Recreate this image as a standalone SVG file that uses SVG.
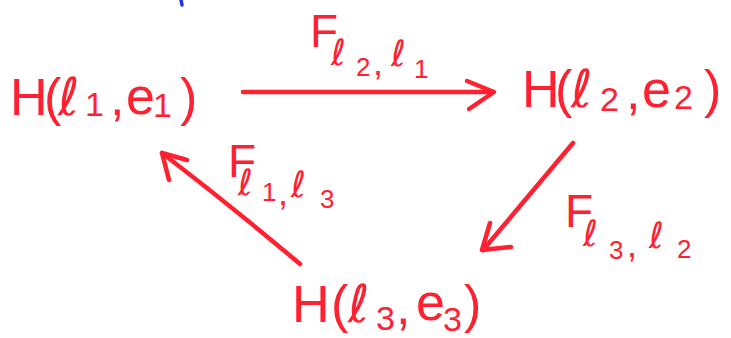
<svg xmlns="http://www.w3.org/2000/svg" width="731" height="338" viewBox="0 0 731 338">
<style>
.t{font-family:"Liberation Sans","DejaVu Sans",sans-serif;fill:#ff2030}
.big{font-size:52px}
.mid{font-size:34px}
.f{font-size:46px}
.l{font-family:"DejaVu Sans",sans-serif}
.s{font-size:36px}
.ss{font-size:26px}
.ln{fill:none;stroke:#ff2030;stroke-width:4.5;stroke-linecap:round;stroke-linejoin:round}
</style>
<rect width="731" height="338" fill="#ffffff"/>
<path d="M181,0 L182,5" stroke="#2233ee" stroke-width="3.5" stroke-linecap="round"/>
<g id="node1">
<text class="t big" y="115"><tspan x="10">H</tspan><tspan x="44">(</tspan><tspan class="l" x="58">ℓ</tspan><tspan x="85" class="mid" y="116">1</tspan><tspan x="110" y="115">,</tspan><tspan x="126" y="114">e</tspan><tspan x="153" class="mid" y="117">1</tspan><tspan x="180" y="115">)</tspan></text>
</g>
<g id="node2">
<text class="t big" y="107"><tspan x="522">H</tspan><tspan x="555">(</tspan><tspan class="l" x="571">ℓ</tspan><tspan x="600" class="mid" y="111">2</tspan><tspan x="626" y="109">,</tspan><tspan x="642" y="107">e</tspan><tspan x="674" class="mid" y="109">2</tspan><tspan x="704" y="107">)</tspan></text>
</g>
<g id="node3">
<text class="t big" y="322"><tspan x="292">H</tspan><tspan x="331">(</tspan><tspan class="l" x="348">ℓ</tspan><tspan x="376" class="mid" y="330">3</tspan><tspan x="396" y="324">,</tspan><tspan x="416" y="320">e</tspan><tspan x="443" class="mid" y="331">3</tspan><tspan x="464" y="322">)</tspan></text>
</g>
<g id="connectors">
<path class="ln" d="M243,92 Q370,92 493,92"/>
<path class="ln" d="M467,81 L494,92 L469,109"/>
<path class="ln" d="M573,143 L483,250"/>
<path class="ln" d="M490,223 L482,250 L511,247"/>
<path class="ln" d="M300,264 Q230,205 162,153"/>
<path class="ln" d="M187,160 L162,153 L169,180"/>
<g id="label1">
<text class="t f" y="47"><tspan x="310">F</tspan><tspan class="s l" x="331" y="65">ℓ</tspan><tspan class="ss" x="356" y="76">2</tspan><tspan class="s" x="373" y="75">,</tspan><tspan class="s l" x="391" y="66">ℓ</tspan><tspan class="ss" x="414" y="78">1</tspan></text>
</g>
<g id="label2">
<text class="t f" y="227"><tspan x="565">F</tspan><tspan class="s l" x="583" y="246">ℓ</tspan><tspan class="ss" x="609" y="259">3</tspan><tspan class="s" x="627" y="257">,</tspan><tspan class="s l" x="649" y="248">ℓ</tspan><tspan class="ss" x="677" y="258">2</tspan></text>
</g>
<g id="label3">
<text class="t f" y="177"><tspan x="228">F</tspan><tspan class="s l" x="238" y="195">ℓ</tspan><tspan class="ss" x="262" y="201">1</tspan><tspan class="s" x="278" y="205">,</tspan><tspan class="s l" x="291" y="197">ℓ</tspan><tspan class="ss" x="320" y="208">3</tspan></text>
</g>
</g>
</svg>
